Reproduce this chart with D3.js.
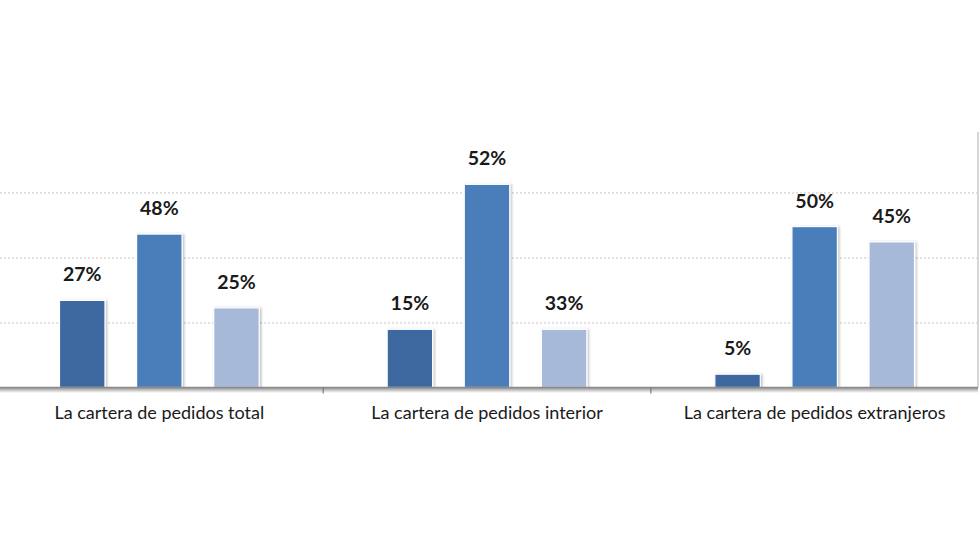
<!DOCTYPE html>
<html>
<head>
<meta charset="utf-8">
<script src="https://cdn.jsdelivr.net/npm/d3@7"></script>
<style>
  body { margin: 0; background: #fff; }
</style>
</head>
<body>
<svg id="chart" width="980" height="560"></svg>
<script>
var categories = [
  "La cartera de pedidos total",
  "La cartera de pedidos interior",
  "La cartera de pedidos extranjeros"
];
var series = ["s1", "s2", "s3"];
// printed labels
var labelValues = [[27, 48, 25], [15, 52, 33], [5, 50, 45]];
// bar heights as drawn in the picture (they do not follow the labels exactly)
var barHeights = [[26.8, 47.2, 24.5], [17.9, 62.5, 17.9], [4.1, 49.5, 44.8]];
var gridTicks = [20, 40, 60];
var yMax = 78.6;

var colors = ["#3e69a0", "#4a7ebb", "#a7b9d8"];

var svg = d3.select("#chart");
var baseY = 387.5;

var x0 = d3.scaleBand().domain(categories).range([-4.5, 978.5]);
var x1 = d3.scaleBand().domain(series)
  .range([0, x0.bandwidth()])
  .paddingInner(0.41)
  .paddingOuter(0.83);
var y = d3.scaleLinear().domain([0, yMax]).range([baseY, 132]);

var defs = svg.append("defs");
var grad = defs.append("linearGradient")
  .attr("id", "axisShadow")
  .attr("x1", 0).attr("y1", 0).attr("x2", 0).attr("y2", 1);
grad.append("stop").attr("offset", "0%").attr("stop-color", "#9a9a9a");
grad.append("stop").attr("offset", "100%").attr("stop-color", "#ffffff");

var shadow = defs.append("filter").attr("id", "barShadow")
  .attr("x", "-20%").attr("y", "-10%").attr("width", "140%").attr("height", "120%");
shadow.append("feDropShadow")
  .attr("dx", 1.5).attr("dy", 0.5).attr("stdDeviation", 1.2)
  .attr("flood-color", "#000").attr("flood-opacity", 0.25);

// gridlines
svg.append("g").selectAll("line")
  .data(gridTicks)
  .enter()
  .append("line")
  .attr("x1", 0)
  .attr("x2", 978)
  .attr("y1", function (d) { return y(d) + 0.5; })
  .attr("y2", function (d) { return y(d) + 0.5; })
  .attr("stroke", "#c4c4c4")
  .attr("stroke-width", 1)
  .attr("stroke-dasharray", "2,2");

// right border line
svg.append("line")
  .attr("x1", 978).attr("x2", 978)
  .attr("y1", y(yMax)).attr("y2", baseY)
  .attr("stroke", "#d6d6d6")
  .attr("stroke-width", 2);

// bars
var groups = svg.append("g").selectAll("g")
  .data(categories)
  .enter()
  .append("g")
  .attr("transform", function (d) { return "translate(" + x0(d) + ",0)"; });

groups.selectAll("rect")
  .data(function (d, i) {
    return series.map(function (s, j) {
      return { s: s, h: barHeights[i][j], label: labelValues[i][j], c: colors[j] };
    });
  })
  .enter()
  .append("rect")
  .attr("x", function (d) { return x1(d.s); })
  .attr("width", x1.bandwidth())
  .attr("y", function (d) { return y(d.h); })
  .attr("height", function (d) { return baseY - y(d.h); })
  .attr("fill", function (d) { return d.c; })
  .attr("stroke", "#ffffff")
  .attr("stroke-width", 1.2)
  .attr("filter", "url(#barShadow)");

groups.selectAll("text.val")
  .data(function (d, i) {
    return series.map(function (s, j) {
      return { s: s, h: barHeights[i][j], label: labelValues[i][j] };
    });
  })
  .enter()
  .append("text")
  .attr("class", "val")
  .attr("x", function (d) { return x1(d.s) + x1.bandwidth() / 2; })
  .attr("y", function (d) { return y(d.h) - 19; })
  .attr("text-anchor", "middle")
  .attr("font-family", "Lato, 'Noto Sans', sans-serif")
  .attr("font-weight", "bold")
  .attr("font-size", 19.5)
  .attr("fill", "#1a1a1a")
  .text(function (d) { return d.label + "%"; });

// axis baseline with shadow
svg.append("rect")
  .attr("x", 0).attr("y", baseY + 0.5)
  .attr("width", 978).attr("height", 5)
  .attr("fill", "url(#axisShadow)");
svg.append("line")
  .attr("x1", 0).attr("x2", 978)
  .attr("y1", baseY).attr("y2", baseY)
  .attr("stroke", "#8a8a8a")
  .attr("stroke-width", 1.5);

// ticks at category boundaries
svg.append("g").selectAll("line")
  .data(categories.slice(1))
  .enter()
  .append("line")
  .attr("x1", function (d) { return x0(d); })
  .attr("x2", function (d) { return x0(d); })
  .attr("y1", baseY)
  .attr("y2", baseY + 6)
  .attr("stroke", "#7a7a7a")
  .attr("stroke-width", 1.2);

// category labels
var xAxis = svg.append("g")
  .attr("transform", "translate(0," + baseY + ")")
  .call(d3.axisBottom(x0).tickSize(0).tickPadding(19));
xAxis.select(".domain").remove();
xAxis.selectAll("text")
  .attr("font-family", "Lato, 'Noto Sans', sans-serif")
  .attr("font-size", 18)
  .attr("fill", "#1a1a1a");
</script>
</body>
</html>
